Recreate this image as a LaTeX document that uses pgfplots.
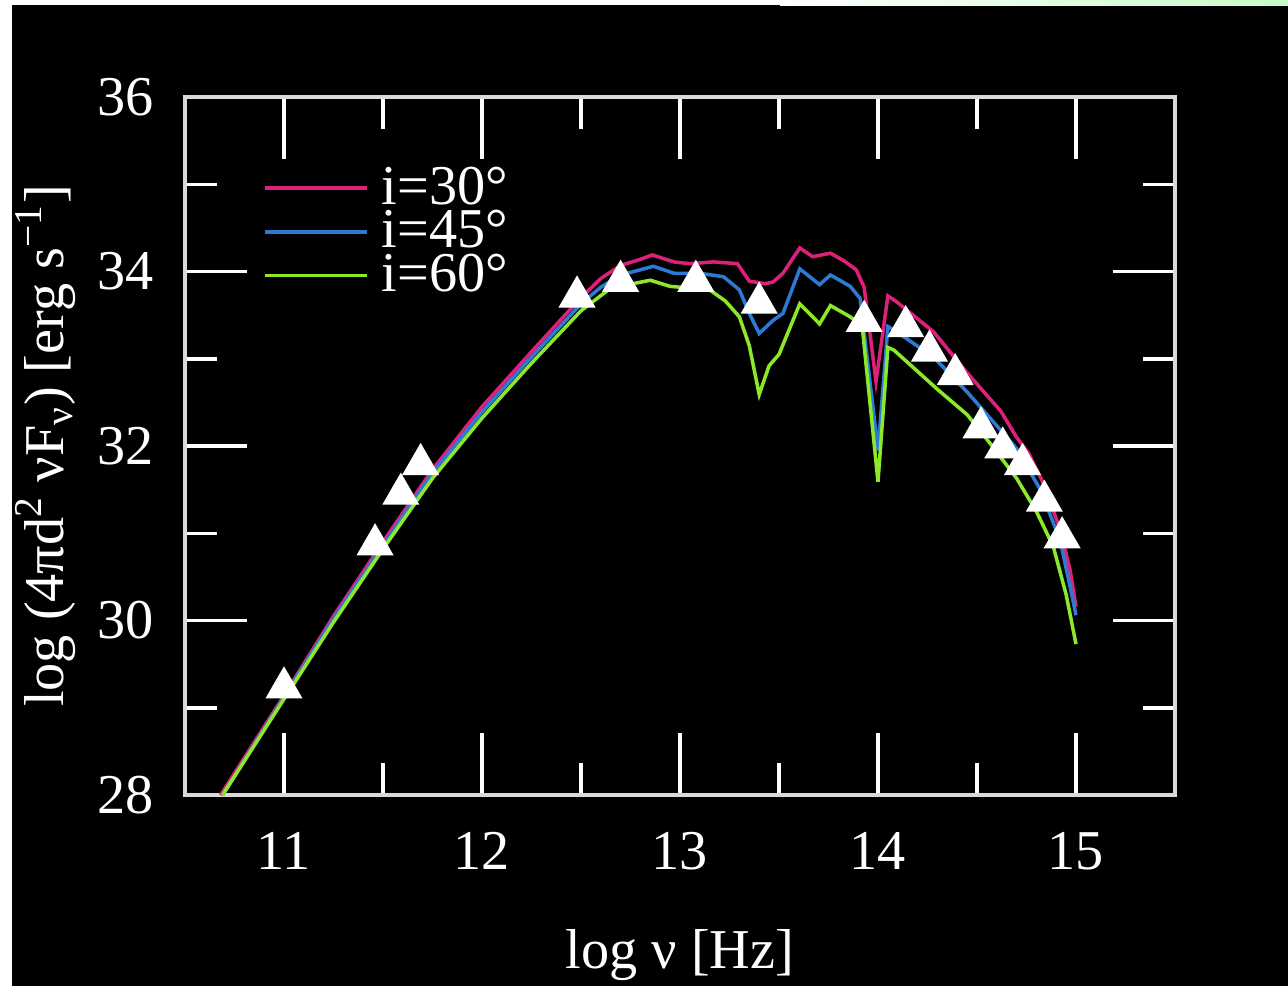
\documentclass[border=0pt]{standalone}
\usepackage{fontspec}
\setmainfont{Liberation Serif}
\usepackage{pgfplots}
\pgfplotsset{compat=1.18}

\definecolor{incA}{RGB}{222,32,122}
\definecolor{incB}{RGB}{44,122,212}
\definecolor{incC}{RGB}{140,232,40}
\newcommand{\bigfont}{\fontsize{16}{19}\selectfont}

\begin{document}
\begin{tikzpicture}
% page background (1 px = 0.01 cm)
\fill[black] (-1.85,-1.91) rectangle (11.03,7.95);
\fill[white] (-1.85,-1.91) rectangle (-1.73,7.95);
\fill[white] (-1.85,7.90) rectangle (11.03,7.95);
\shade[left color=white, right color={rgb,255:red,200;green,250;blue,200}] (5.95,7.90) rectangle (11.03,7.95);

\begin{axis}[
    scale only axis,
    width=9.9cm, height=6.98cm,
    xmin=10.5, xmax=15.5,
    ymin=28, ymax=36,
    xtick={11,12,13,14,15},
    ytick={28,30,32,34,36},
    minor x tick num=1,
    minor y tick num=1,
    major tick length=0.62cm,
    minor tick length=0.32cm,
    tick style={white, line width=1pt},
    axis line style={draw=white!85!black, line width=1.2pt},
    tick label style={text=white, font=\bigfont, /pgf/number format/assume math mode=true},
    xticklabel style={yshift=-0.25cm},
    yticklabel style={xshift=-0.19cm},
    xlabel={log ν [Hz]},
    ylabel={log (4πd\textsuperscript{2} νF\textsubscript{ν}) [erg s\textsuperscript{−1}]},
    xlabel style={at={(axis description cs:0.5,-0.248)}, anchor=base, text=white, font=\bigfont},
    ylabel style={at={(axis description cs:-0.123,0.5)}, anchor=base, text=white, font=\bigfont},
    legend style={draw=none, fill=none, text=white, font=\bigfont,
        at={(axis description cs:0.0677,0.911)}, anchor=north west,
        /tikz/row sep=0.3pt, /tikz/column sep=0.13cm, nodes={inner sep=0pt}},
    legend cell align=left,
    legend image code/.code={\draw[#1] (0cm,0cm) -- (1.02cm,0cm);},
    every axis plot/.append style={line width=1pt},
]
\addplot[incA, no markers] coordinates {
(10.68,28.00)(11.00,29.14)(11.25,30.05)(11.50,30.90)(11.75,31.73)(12.00,32.45)
(12.25,33.08)(12.50,33.70)(12.60,33.92)(12.70,34.07)(12.80,34.14)(12.86,34.19)
(12.97,34.11)(13.05,34.09)(13.17,34.11)(13.29,34.09)(13.35,33.89)(13.43,33.86)
(13.47,33.88)(13.52,33.98)(13.605,34.27)(13.67,34.17)(13.76,34.21)(13.83,34.12)
(13.89,34.02)(13.93,33.82)(13.99,32.74)(14.05,33.72)(14.09,33.66)(14.28,33.31)
(14.45,32.84)(14.55,32.58)(14.62,32.40)(14.70,32.10)(14.76,31.92)(14.84,31.55)
(14.92,31.04)(14.97,30.58)(15.00,30.16)};
\addlegendentry{i=30°}
\addplot[incB, no markers] coordinates {
(10.69,28.00)(11.00,29.12)(11.25,30.02)(11.50,30.86)(11.75,31.69)(12.00,32.39)
(12.25,33.02)(12.50,33.63)(12.60,33.82)(12.70,33.96)(12.80,34.02)(12.865,34.06)
(12.97,33.98)(13.10,33.98)(13.22,33.94)(13.30,33.79)(13.35,33.52)(13.40,33.29)
(13.47,33.44)(13.52,33.52)(13.605,34.03)(13.705,33.85)(13.76,33.96)(13.86,33.83)
(13.91,33.69)(14.00,31.95)(14.05,33.37)(14.08,33.33)(14.28,33.02)(14.45,32.62)
(14.62,32.18)(14.70,31.97)(14.82,31.50)(14.92,30.92)(14.985,30.23)(15.00,30.06)};
\addlegendentry{i=45°}
\addplot[incC, no markers] coordinates {
(10.69,28.00)(11.00,29.10)(11.25,29.98)(11.50,30.82)(11.75,31.63)(12.00,32.32)
(12.25,32.95)(12.50,33.55)(12.65,33.81)(12.76,33.86)(12.85,33.90)(12.95,33.83)
(13.05,33.81)(13.15,33.79)(13.23,33.66)(13.30,33.48)(13.35,33.15)(13.40,32.59)
(13.45,32.92)(13.50,33.05)(13.605,33.63)(13.705,33.40)(13.76,33.61)(13.86,33.48)
(13.92,33.38)(14.00,31.59)(14.05,33.13)(14.08,33.10)(14.30,32.65)(14.45,32.36)
(14.57,32.02)(14.70,31.63)(14.80,31.25)(14.885,30.85)(14.95,30.30)(15.00,29.73)};
\addlegendentry{i=60°}
% observed points
\addplot[only marks, mark=triangle*, mark size=5.1pt, white, forget plot] coordinates {
(11.00,29.23)(11.46,30.87)(11.59,31.45)(11.69,31.79)(12.48,33.71)(12.70,33.89)
(13.08,33.89)(13.40,33.64)(13.93,33.43)(14.14,33.37)(14.26,33.09)(14.39,32.82)
(14.52,32.21)(14.63,31.98)(14.73,31.79)(14.84,31.37)(14.93,30.95)};
\end{axis}
\pgfresetboundingbox
\path (-1.85,-1.91) rectangle (11.03,7.95);
\end{tikzpicture}
\end{document}
